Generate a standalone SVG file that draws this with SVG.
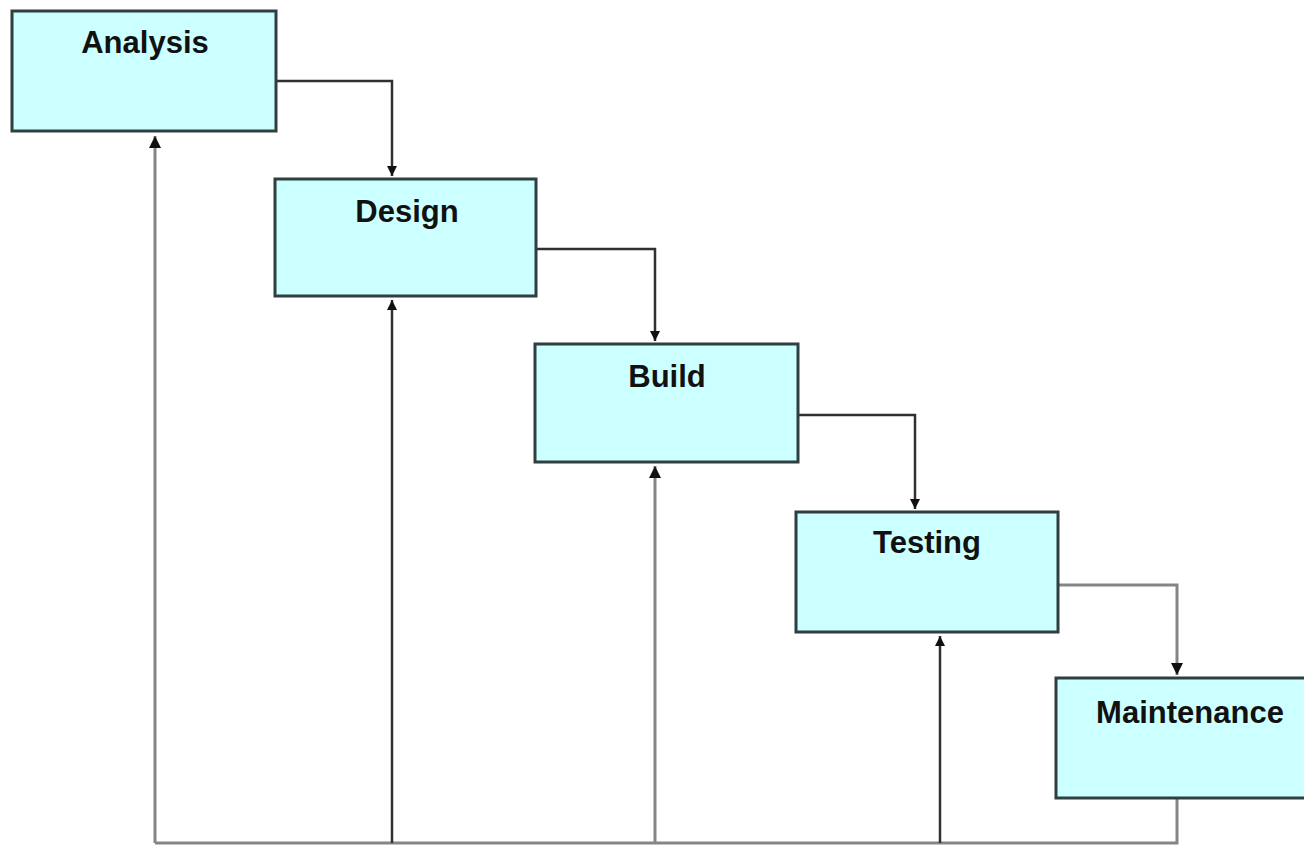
<svg xmlns="http://www.w3.org/2000/svg" width="1304" height="847" viewBox="0 0 1304 847">
<style>
.box{fill:#ccffff;stroke:#2f3f3f;stroke-width:3}
.lbl{font-family:"Liberation Sans",Arial,sans-serif;font-weight:bold;font-size:31px;fill:#111;text-anchor:middle}
.dk{fill:none;stroke:#303030;stroke-width:2.5}
.gr{fill:none;stroke:#858585;stroke-width:3}
</style>
<defs>
<marker id="ah" viewBox="0 0 10 10" refX="10" refY="5" markerWidth="4" markerHeight="4" orient="auto" markerUnits="strokeWidth">
<path d="M0,0 L10,5 L0,10 z" fill="#111"/>
</marker>
</defs>
<rect width="1304" height="847" fill="#ffffff"/>
<g id="connectors">
<polyline class="dk" points="276,81 392,81 392,176" marker-end="url(#ah)"/>
<polyline class="dk" points="536,249 655,249 655,341" marker-end="url(#ah)"/>
<polyline class="dk" points="798,415 915,415 915,509" marker-end="url(#ah)"/>
<polyline class="gr" points="1058,585 1177,585 1177,675" marker-end="url(#ah)"/>
<polyline class="gr" points="1177,798 1177,843 155,843"/>
<polyline class="gr" points="155,843 155,136" marker-end="url(#ah)"/>
<polyline class="dk" points="392,843 392,300" marker-end="url(#ah)"/>
<polyline class="gr" points="655,843 655,466" marker-end="url(#ah)"/>
<polyline class="dk" points="940,843 940,636" marker-end="url(#ah)"/>
</g>
<g id="analysis">
<rect class="box" x="12" y="11" width="264" height="120"/>
<text class="lbl" x="145" y="53">Analysis</text>
</g>
<g id="design">
<rect class="box" x="275" y="179" width="261" height="117"/>
<text class="lbl" x="407" y="222">Design</text>
</g>
<g id="build">
<rect class="box" x="535" y="344" width="263" height="118"/>
<text class="lbl" x="667" y="387">Build</text>
</g>
<g id="testing">
<rect class="box" x="796" y="512" width="262" height="120"/>
<text class="lbl" x="927" y="553">Testing</text>
</g>
<g id="maintenance">
<rect class="box" x="1056" y="678" width="260" height="120"/>
<text class="lbl" x="1190" y="723">Maintenance</text>
</g>
</svg>
